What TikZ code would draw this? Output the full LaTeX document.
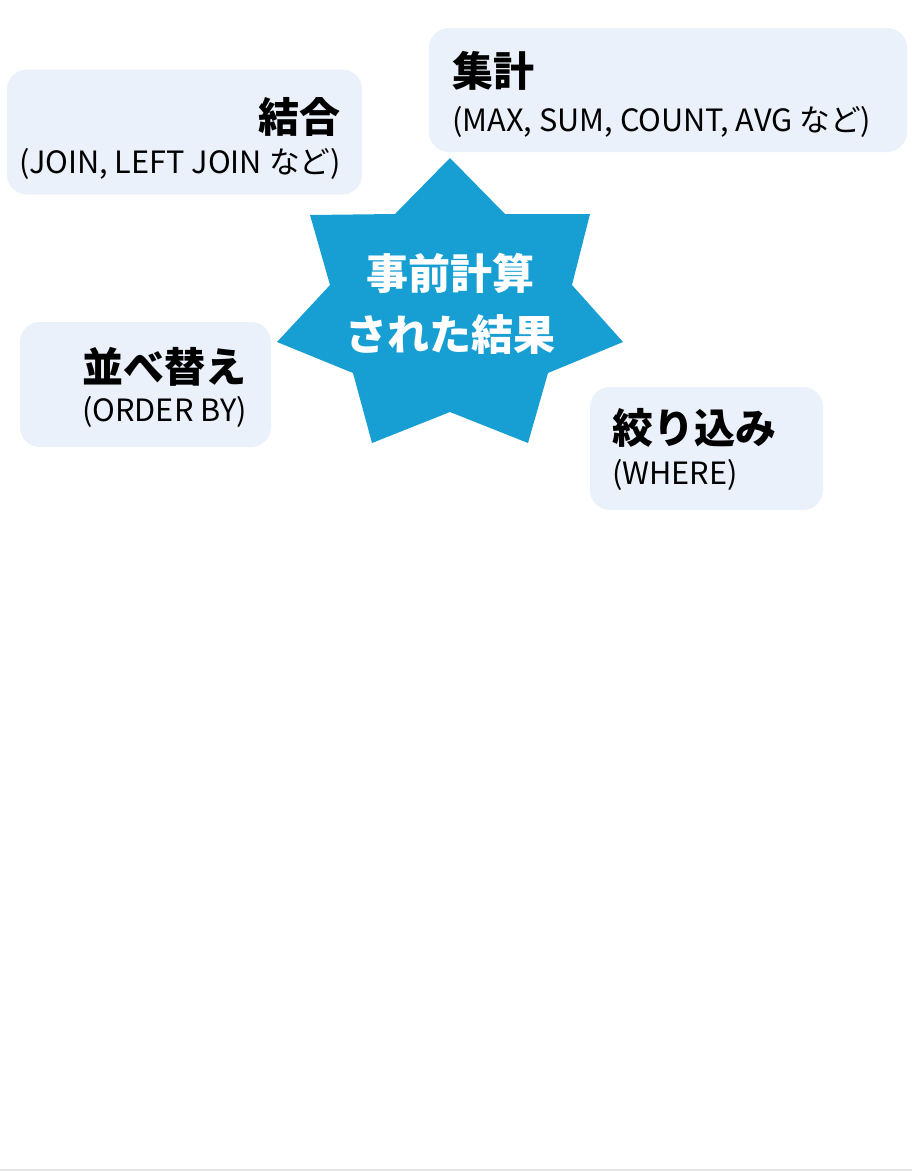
\documentclass[tikz,border=0pt]{standalone}
\usepackage{fontspec}
\setmainfont{Noto Sans CJK JP}
\begin{document}
\begin{tikzpicture}[x=1pt,y=-1pt]
\definecolor{boxfill}{RGB}{235,241,250}
\definecolor{starblue}{RGB}{23,159,212}
\definecolor{edgegray}{RGB}{228,228,228}
\tikzset{
  card/.style={fill=boxfill, draw=none, rounded corners=20pt, inner sep=0pt},
  ttl/.style={font=\fontsize{41}{46}\bfseries\selectfont, inner sep=0pt, text=black},
  sub/.style={font=\fontsize{30.7}{36}\selectfont, inner sep=0pt, text=black},
  startxt/.style={font=\fontsize{42}{48}\bfseries\selectfont, inner sep=0pt, text=white},
}
\useasboundingbox (0,0) rectangle (912,1171);
\fill[white] (0,0) rectangle (912,1171);
\draw[edgegray, line width=1.5pt] (0,1170) -- (912,1170);
% cards
\node[card, minimum width=355pt, minimum height=125pt] (joinbox) at (184.5,132) {};
\node[card, minimum width=478pt, minimum height=124pt] (aggbox) at (668,90) {};
\node[card, minimum width=251pt, minimum height=125pt] (sortbox) at (145.5,384.5) {};
\node[card, minimum width=233pt, minimum height=123pt] (filtbox) at (706.5,448.5) {};
% star
\fill[starblue] (450,158) -- (505,214) -- (590,214) -- (572,285) -- (623,342)
  -- (548,373) -- (528,443) -- (450,412) -- (372,443) -- (353,373)
  -- (277,342) -- (330,285) -- (310,215) -- (395,214) -- cycle;
% texts
\node[ttl, anchor=base east] (jointitle) at (341,132) {結合};
\node[sub, anchor=base east] (joinsub) at (341,173) {(JOIN, LEFT JOIN など)};
\node[ttl, anchor=base west] (aggtitle) at (452,86) {集計};
\node[sub, anchor=base west] (aggsub) at (452,131) {(MAX, SUM, COUNT, AVG など)};
\node[ttl, anchor=base west] (sorttitle) at (82,382) {並べ替え};
\node[sub, anchor=base west] (sortsub) at (82,421) {(ORDER BY)};
\node[ttl, anchor=base west] (filttitle) at (612,443) {絞り込み};
\node[sub, anchor=base west] (filtsub) at (612,484) {(WHERE)};
\node[startxt, anchor=base] (center1) at (450,289) {事前計算};
\node[startxt, anchor=base] (center2) at (450,350) {された結果};
\end{tikzpicture}
\end{document}
